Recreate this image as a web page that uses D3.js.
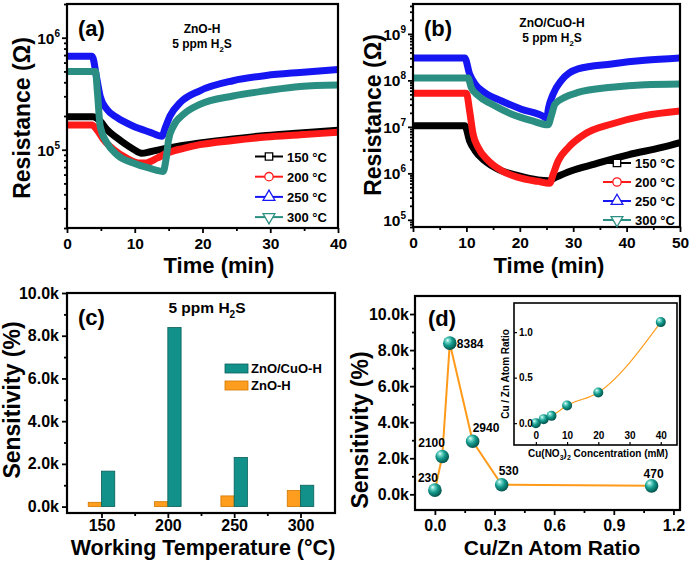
<!DOCTYPE html>
<html><head><meta charset="utf-8">
<script src="https://cdn.jsdelivr.net/npm/d3@7"></script>
<style>
body{margin:0;background:#fff}
text{font-family:"Liberation Sans",Arial,Helvetica,sans-serif;font-weight:bold;fill:#000}
</style>
</head><body><script>
// ---------------- DATA ----------------
const tempLabels = ["150 °C","200 °C","250 °C","300 °C"];
// panel (a) ZnO-H : [time (min), resistance (ohm)]
const a150 = [[0,1.97e5],[3.8,1.97e5],[4.9,1.8e5],[5.9,1.51e5],[7.4,1.27e5],[9.8,1.01e5],[11,9.3e4],[12.3,9.6e4],[14.7,1.03e5],[19.6,1.15e5],[24.5,1.25e5],[29.4,1.34e5],[34.4,1.41e5],[40,1.49e5]];
const a200 = [[0,1.66e5],[3.7,1.66e5],[4.4,1.51e5],[5.4,1.23e5],[6.9,1.0e5],[8.8,8.4e4],[10.8,7.6e4],[11.5,7.6e4],[13.3,8.4e4],[14.7,9.3e4],[17.2,1.03e5],[19.6,1.11e5],[24.5,1.21e5],[29.4,1.3e5],[34.4,1.36e5],[40,1.43e5]];
const a250 = [[0,6.84e5],[3.7,6.84e5],[4.4,4.3e5],[4.9,3.0e5],[5.9,2.29e5],[7.4,1.93e5],[9.8,1.62e5],[12.3,1.43e5],[14,1.32e5],[14.5,1.57e5],[15.2,2.0e5],[16.7,2.63e5],[19.6,3.36e5],[24.5,4.13e5],[29.4,4.6e5],[34.4,4.9e5],[40,5.2e5]];
const a300 = [[0,5.0e5],[4.2,5.0e5],[4.5,3.2e5],[4.9,1.62e5],[5.9,1.15e5],[7.4,9.0e4],[9.8,7.6e4],[12.3,6.8e4],[14.2,6.4e4],[14.6,8.1e4],[15,1.23e5],[15.7,1.62e5],[17.2,2.07e5],[19.6,2.54e5],[24.5,3.02e5],[29.4,3.36e5],[34.4,3.67e5],[40,3.78e5]];
// panel (b) ZnO/CuO-H
const b150 = [[0,1.06e7],[9.7,1.06e7],[10.6,5e6],[11.6,3.1e6],[13.4,1.87e6],[15.9,1.23e6],[19.7,8.9e5],[23.4,7.2e5],[25.3,6.9e5],[26.6,8.1e5],[29.7,1.14e6],[34,1.58e6],[40.3,2.5e6],[46.6,3.6e6],[50,4.6e6]];
const b200 = [[0,5.3e7],[10,5.3e7],[10.6,2.2e7],[11.25,7e6],[12.2,3.6e6],[14.1,1.87e6],[16.6,1.14e6],[19.7,8.2e5],[23.4,6.7e5],[25.6,6.1e5],[26.25,9.6e5],[27.2,1.86e6],[29.1,3.6e6],[32.2,7e6],[37.2,1.15e7],[43.4,1.74e7],[50,2.2e7]];
const b250 = [[0,3.04e8],[9.7,3.04e8],[10.6,1.37e8],[11.6,8.4e7],[13.4,5.5e7],[16.6,3.6e7],[20.3,2.4e7],[24.7,1.6e7],[25,1.5e7],[25.4,2.6e7],[26.25,5.1e7],[27.8,1e8],[30.9,1.77e8],[37.2,2.26e8],[43.4,2.7e8],[50,3.04e8]];
const b300 = [[0,1.13e8],[10.3,1.13e8],[10.9,7.1e7],[12.2,4.7e7],[14.7,3.1e7],[18.4,1.9e7],[22.2,1.36e7],[25.3,1.11e7],[25.9,1.74e7],[26.6,3.1e7],[28.4,4.3e7],[30.9,5.5e7],[37.2,7.1e7],[43.4,8.1e7],[50,8.4e7]];
// panel (c)
const tempCats = [150,200,250,300];
const sensZnOCuO = [1660,8384,2300,1000];
const sensZnO = [200,230,500,750];
const barLegend = ["ZnO/CuO-H","ZnO-H"];
// panel (d)
const cuZnRatio = [0,0.037,0.075,0.19,0.336,1.09];
const sensRatio = [230,2100,8384,2940,530,470];
const sensLabels = ["230","2100","8384","2940","530","470"];
// inset
const cuNO3Conc = [0,2.5,5,10,20,40];
const atomRatio = [0,0.044,0.08,0.194,0.337,1.11];
// tick labels
const dTickY = [0,2000,4000,6000,8000,10000];
const dTickX = [0,0.3,0.6,0.9,1.2];

// ---------------- STYLE ----------------
const curveColors = ["#000000","#ff1a1a","#1616f2","#2a8f82"];
const markerTypes = [d3.symbolSquare,d3.symbolCircle,d3.symbolTriangle,"down"];
const FONT = '"Liberation Sans",Arial,sans-serif';

const svg = d3.select("body").append("svg").attr("width",697).attr("height",564);
const defs = svg.append("defs");
const grad = defs.append("radialGradient").attr("id","sph").attr("cx","0.4").attr("cy","0.38").attr("r","0.62").attr("fx","0.33").attr("fy","0.28");
[["0","#f2fffd"],["0.22","#74d8cb"],["0.55","#139a8c"],["1","#04534b"]].forEach(s=>grad.append("stop").attr("offset",s[0]).attr("stop-color",s[1]));

function frame(x0,y0,x1,y1,w){
  svg.append("rect").attr("x",x0).attr("y",y0).attr("width",x1-x0).attr("height",y1-y0)
    .attr("fill","none").attr("stroke","#000").attr("stroke-width",w||2.2);
}
function styleAxis(a,fs){
  a.select(".domain").remove();
  a.selectAll(".tick line").attr("stroke","#000").attr("stroke-width",1.8);
  a.selectAll(".tick text").attr("font-size",fs).attr("font-weight","bold").attr("fill","#000").attr("font-family",FONT);
  return a;
}
function clip(id,x0,y0,x1,y1){
  defs.append("clipPath").attr("id",id).append("rect").attr("x",x0).attr("y",y0).attr("width",x1-x0).attr("height",y1-y0);
}
function sup(sel, base, s, fs, dy){
  sel.append("tspan").text(base);
  sel.append("tspan").attr("font-size",fs).attr("dy",dy).text(s);
}
function h2s(g,x,y,fs,anchor){
  const t=g.append("text").attr("x",x).attr("y",y).attr("font-size",fs).attr("text-anchor",anchor||"middle");
  t.append("tspan").text("5 ppm H");
  t.append("tspan").attr("font-size",fs*0.65).attr("dy",fs*0.3).text("2");
  t.append("tspan").attr("dy",-fs*0.3).text("S");
  return t;
}
function marker(g,type,x,y,color){
  if(type==="down"){
    g.append("path").attr("d",d3.symbol(d3.symbolTriangle,60)()).attr("transform",`translate(${x},${y}) rotate(180)`)
      .attr("fill","#fff").attr("stroke",color).attr("stroke-width",1.3);
  } else {
    g.append("path").attr("d",d3.symbol(type,type===d3.symbolTriangle?60:55)()).attr("transform",`translate(${x},${y})`)
      .attr("fill","#fff").attr("stroke",color).attr("stroke-width",1.3);
  }
}

// ---------------- log panels ----------------
function logPanel(o){
  const x = d3.scaleLinear().domain(o.xd).range([o.x0,o.x1]);
  const y = d3.scaleLog().domain(o.yd).range([o.y1,o.y0]);
  clip(o.id,o.x0,o.y0,o.x1,o.y1);
  const g = svg.append("g").attr("clip-path",`url(#${o.id})`);
  const line = d3.line().x(d=>x(d[0])).y(d=>y(d[1])).curve(d3.curveMonotoneX);
  o.series.forEach((s,i)=>{
    g.append("path").attr("d",line(s)).attr("fill","none").attr("stroke",curveColors[i])
      .attr("stroke-width",7).attr("stroke-linejoin","round");
  });
  // axes
  styleAxis(svg.append("g").attr("transform",`translate(0,${o.y1})`)
    .call(d3.axisBottom(x).tickValues(o.xt).tickSize(5).tickPadding(5).tickFormat(d3.format("d"))),15.5);
  styleAxis(svg.append("g").attr("transform",`translate(0,${o.y1})`)
    .call(d3.axisBottom(x).tickValues(o.xm).tickSize(3).tickFormat("")),15);
  const [lo,hi]=o.yd; const majors=[],minors=[];
  for(let e=Math.floor(Math.log10(lo));e<=Math.ceil(Math.log10(hi));e++){
    for(let m=1;m<10;m++){const v=m*Math.pow(10,e); if(v>=lo&&v<=hi){(m===1?majors:minors).push(v);}}
  }
  styleAxis(svg.append("g").attr("transform",`translate(${o.x0},0)`)
    .call(d3.axisLeft(y).tickValues(majors).tickSize(5).tickFormat("")),15);
  styleAxis(svg.append("g").attr("transform",`translate(${o.x0},0)`)
    .call(d3.axisLeft(y).tickValues(minors).tickSize(3).tickFormat("")),15);
  majors.forEach(v=>{
    const t=svg.append("text").attr("x",o.x0-7).attr("y",y(v)+6).attr("text-anchor","end").attr("font-size",15.5);
    sup(t,"10",String(Math.round(Math.log10(v))),10,-7);
  });
  frame(o.x0,o.y0,o.x1,o.y1);
  // titles
  svg.append("text").attr("x",o.x0+11).attr("y",36).attr("font-size",22).text(o.tag);
  svg.append("text").attr("x",o.tx).attr("y",o.ty1).attr("font-size",12).attr("text-anchor","middle").text(o.name);
  h2s(svg,o.tx,o.ty2,12);
  // legend
  tempLabels.forEach((lab,i)=>{
    const cy=o.ly0+i*o.ldy;
    svg.append("line").attr("x1",o.lx).attr("x2",o.lx+28).attr("y1",cy).attr("y2",cy).attr("stroke",curveColors[i]).attr("stroke-width",2);
    marker(svg,markerTypes[i],o.lx+14,cy,curveColors[i]);
    svg.append("text").attr("x",o.lx+32).attr("y",cy+5).attr("font-size",13).text(lab);
  });
  // axis titles
  svg.append("text").attr("transform",`translate(${o.ylx},${o.yly}) rotate(-90)`).attr("text-anchor","middle").attr("font-size",23).text("Resistance (Ω)");
  svg.append("text").attr("x",o.xlx).attr("y",273).attr("text-anchor","middle").attr("font-size",22).text("Time (min)");
}

logPanel({id:"ca",x0:67,x1:338,y0:4,y1:228,xd:[0,40],yd:[2e4,2e6],xt:[0,10,20,30,40],xm:[5,15,25,35],
  series:[a150,a200,a250,a300],tag:"(a)",name:"ZnO-H",tx:202,ty1:33,ty2:48,lx:255,ly0:156.5,ldy:20.2,ylx:30,yly:118,xlx:219});
logPanel({id:"cb",x0:413,x1:680,y0:4,y1:227,xd:[0,50],yd:[7e4,4.4e9],xt:[0,10,20,30,40,50],xm:[5,15,25,35,45],
  series:[b150,b200,b250,b300],tag:"(b)",name:"ZnO/CuO-H",tx:552,ty1:27,ty2:42,lx:603,ly0:163,ldy:19,ylx:381,yly:115,xlx:549});

// ---------------- panel (c) ----------------
(function(){
  const x0=67,x1=335,y0=293,y1=513;
  const x=d3.scaleLinear().domain([124,326]).range([x0,x1]);
  const y=d3.scaleLinear().domain([-300,10000]).range([y1,y0]);
  const bw=10;
  svg.append("g").selectAll("rect.o").data(tempCats).join("rect")
    .attr("x",d=>x(d-bw)).attr("width",d=>x(d)-x(d-bw)).attr("y",(d,i)=>y(sensZnO[i])).attr("height",(d,i)=>y(0)-y(sensZnO[i]))
    .attr("fill","#ff9d1e").attr("stroke","#d07800").attr("stroke-width",0.8);
  svg.append("g").selectAll("rect.t").data(tempCats).join("rect")
    .attr("x",d=>x(d)).attr("width",d=>x(d+bw)-x(d)).attr("y",(d,i)=>y(sensZnOCuO[i])).attr("height",(d,i)=>y(0)-y(sensZnOCuO[i]))
    .attr("fill","#11918a").attr("stroke","#0a5f5a").attr("stroke-width",0.8);
  styleAxis(svg.append("g").attr("transform",`translate(0,${y1})`).call(d3.axisBottom(x).tickValues(tempCats).tickSize(5).tickPadding(2)),16);
  styleAxis(svg.append("g").attr("transform",`translate(0,${y1})`).call(d3.axisBottom(x).tickValues([175,225,275]).tickSize(3).tickFormat("")),16);
  styleAxis(svg.append("g").attr("transform",`translate(${x0},0)`).call(d3.axisLeft(y).tickValues(dTickY).tickSize(5).tickPadding(3).tickFormat(d=>(d/1000).toFixed(1)+"k")),16);
  styleAxis(svg.append("g").attr("transform",`translate(${x0},0)`).call(d3.axisLeft(y).tickValues([1000,3000,5000,7000,9000]).tickSize(3).tickFormat("")),16);
  frame(x0,y0,x1,y1);
  svg.append("text").attr("x",78).attr("y",325).attr("font-size",22).text("(c)");
  h2s(svg,207,313,15.5);
  const lc=["#11918a","#ff9d1e"], ls=["#0a5f5a","#d07800"];
  barLegend.forEach((l,i)=>{
    const yy=364+i*17;
    svg.append("rect").attr("x",225).attr("y",yy).attr("width",23).attr("height",9).attr("fill",lc[i]).attr("stroke",ls[i]).attr("stroke-width",0.8);
    svg.append("text").attr("x",251).attr("y",yy+9).attr("font-size",13).text(l);
  });
  svg.append("text").attr("transform","translate(20,400) rotate(-90)").attr("text-anchor","middle").attr("font-size",23).text("Sensitivity (%)");
  svg.append("text").attr("x",203).attr("y",555).attr("text-anchor","middle").attr("font-size",21.5).text("Working Temperature (°C)");
})();

// ---------------- panel (d) ----------------
(function(){
  const x0=415,x1=680,y0=296,y1=510;
  const x=d3.scaleLinear().domain([-0.1,1.233]).range([x0,x1]);
  const y=d3.scaleLinear().domain([-870,11000]).range([y1,y0]);
  const pts=cuZnRatio.map((r,i)=>[r,sensRatio[i]]);
  svg.append("path").attr("d",d3.line().x(d=>x(d[0])).y(d=>y(d[1]))(pts)).attr("fill","none").attr("stroke","#ff9a1a").attr("stroke-width",2);
  svg.append("g").selectAll("circle").data(pts).join("circle").attr("cx",d=>x(d[0])).attr("cy",d=>y(d[1])).attr("r",6.8).attr("fill","url(#sph)");
  const off=[[-17,-8],[-24,-9],[7,5],[0,-9],[-3,-10],[-8,-8]];
  pts.forEach((d,i)=>svg.append("text").attr("x",x(d[0])+off[i][0]).attr("y",y(d[1])+off[i][1]).attr("font-size",12).text(sensLabels[i]));
  styleAxis(svg.append("g").attr("transform",`translate(0,${y1})`).call(d3.axisBottom(x).tickValues(dTickX).tickSize(5).tickPadding(5).tickFormat(d3.format(".1f"))),16);
  styleAxis(svg.append("g").attr("transform",`translate(0,${y1})`).call(d3.axisBottom(x).tickValues([0.15,0.45,0.75,1.05]).tickSize(3).tickFormat("")),16);
  styleAxis(svg.append("g").attr("transform",`translate(${x0},0)`).call(d3.axisLeft(y).tickValues(dTickY).tickSize(5).tickPadding(1).tickFormat(d=>(d/1000).toFixed(1)+"k")),16);
  styleAxis(svg.append("g").attr("transform",`translate(${x0},0)`).call(d3.axisLeft(y).tickValues([1000,3000,5000,7000,9000]).tickSize(3).tickFormat("")),16);
  frame(x0,y0,x1,y1);
  svg.append("text").attr("x",428).attr("y",326).attr("font-size",22).text("(d)");
  svg.append("text").attr("transform","translate(368,430) rotate(-90)").attr("text-anchor","middle").attr("font-size",23).text("Sensitivity (%)");
  svg.append("text").attr("x",552).attr("y",555).attr("text-anchor","middle").attr("font-size",21).text("Cu/Zn Atom Ratio");

  // inset
  const ix0=514,ix1=677,iy0=303,iy1=445;
  const ix=d3.scaleLinear().domain([-7,45.2]).range([ix0,ix1]);
  const iy=d3.scaleLinear().domain([-0.24,1.32]).range([iy1,iy0]);
  svg.append("rect").attr("x",ix0).attr("y",iy0).attr("width",ix1-ix0).attr("height",iy1-iy0).attr("fill","#fff");
  const ipts=cuNO3Conc.map((c,i)=>[c,atomRatio[i]]);
  svg.append("path").attr("d",d3.line().x(d=>ix(d[0])).y(d=>iy(d[1])).curve(d3.curveMonotoneX)(ipts)).attr("fill","none").attr("stroke","#ff9a1a").attr("stroke-width",1.1);
  svg.append("g").selectAll("circle").data(ipts).join("circle").attr("cx",d=>ix(d[0])).attr("cy",d=>iy(d[1])).attr("r",5).attr("fill","url(#sph)");
  const ax=svg.append("g").attr("transform",`translate(0,${iy1})`).call(d3.axisTop(ix).tickValues([0,10,20,30,40]).tickSize(3).tickPadding(3).tickFormat(d3.format("d")));
  styleAxis(ax,10); ax.selectAll(".tick line").attr("stroke-width",1.2); ax.selectAll(".tick text").attr("dy","0");
  const ay=svg.append("g").attr("transform",`translate(${ix0},0)`).call(d3.axisRight(iy).tickValues([0,0.5,1.0]).tickSize(3).tickPadding(2).tickFormat(d3.format(".1f")));
  styleAxis(ay,10); ay.selectAll(".tick line").attr("stroke-width",1.2);
  frame(ix0,iy0,ix1,iy1,1.6);
  svg.append("text").attr("transform","translate(509,374) rotate(-90)").attr("text-anchor","middle").attr("font-size",10).text("Cu / Zn Atom Ratio");
  const xl=svg.append("text").attr("x",598).attr("y",457).attr("text-anchor","middle").attr("font-size",10);
  xl.append("tspan").text("Cu(NO");
  xl.append("tspan").attr("font-size",7).attr("dy",3).text("3");
  xl.append("tspan").attr("dy",-3).text(")");
  xl.append("tspan").attr("font-size",7).attr("dy",3).text("2");
  xl.append("tspan").attr("dy",-3).text(" Concentration (mM)");
})();
</script></body></html>
